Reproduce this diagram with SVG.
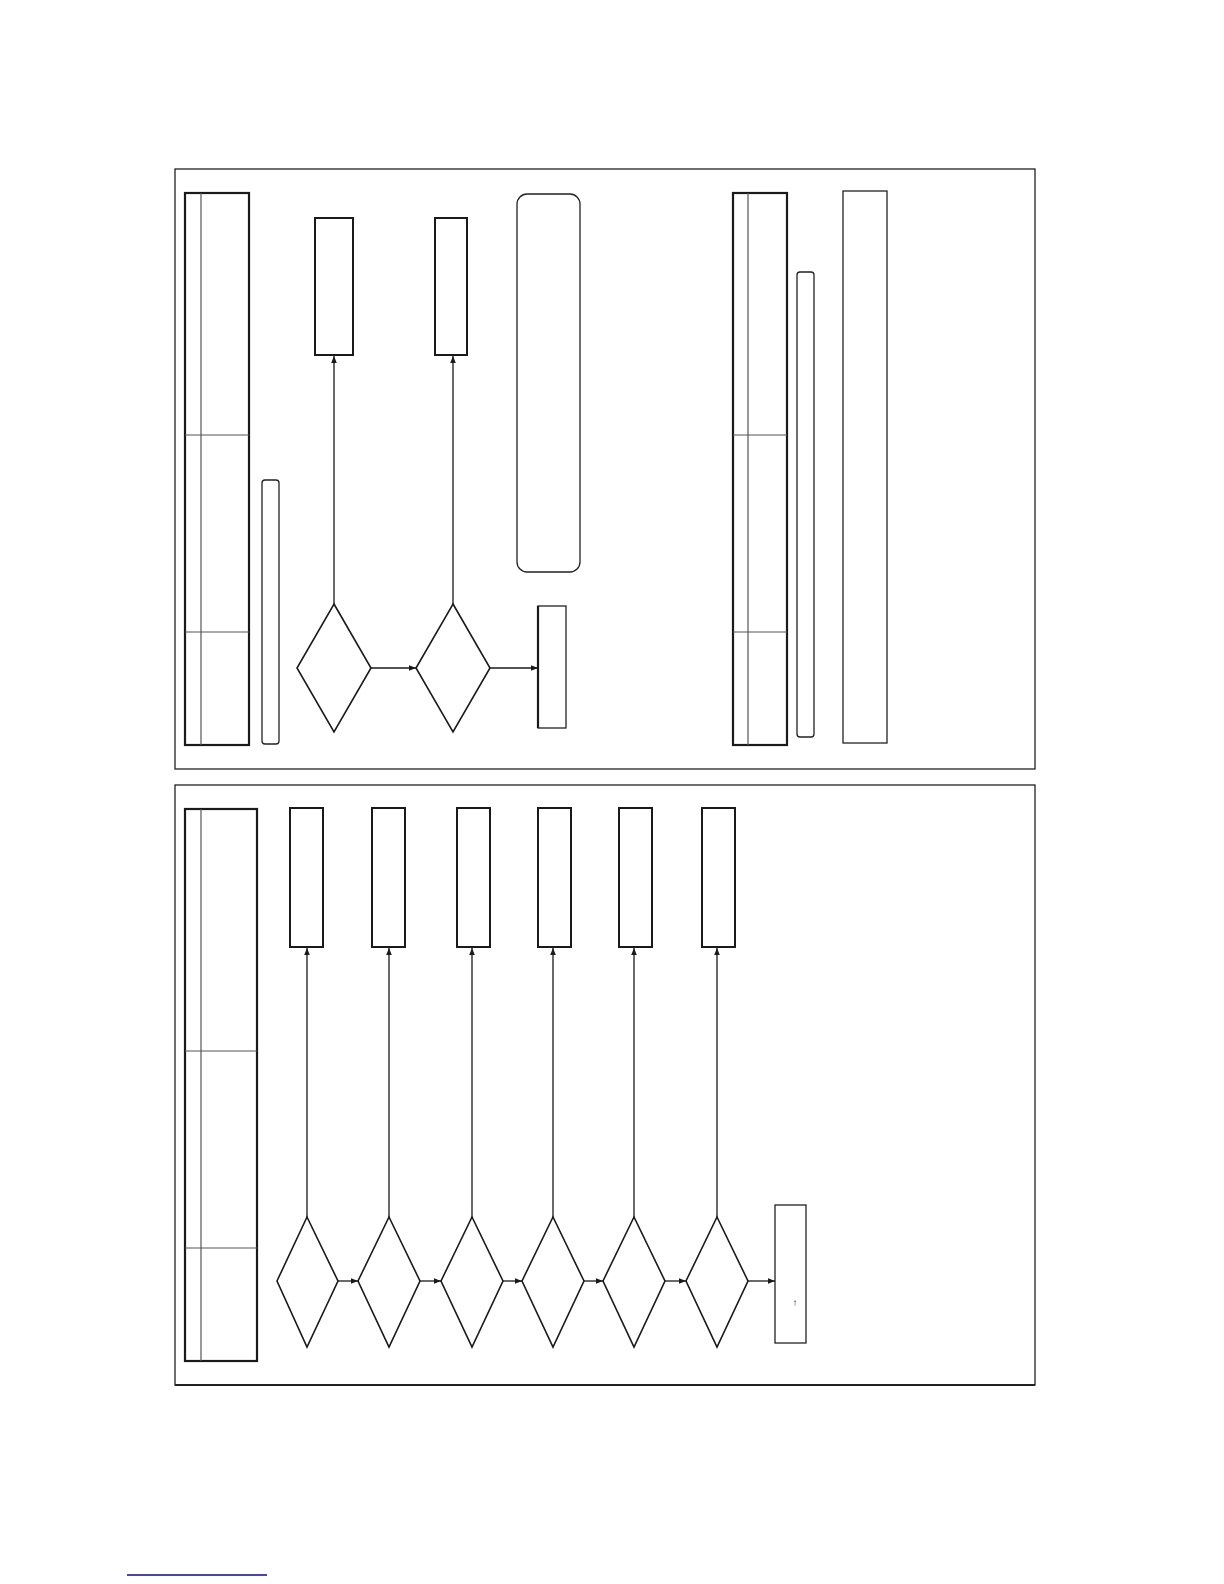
<svg xmlns="http://www.w3.org/2000/svg" width="1224" height="1584" viewBox="0 0 1224 1584">
<style>
.frame{fill:none;stroke:#222;stroke-width:1.3}
.tbl{fill:#fff;stroke:#1a1a1a;stroke-width:2.2}
.grid{stroke:#555;stroke-width:1.2}
.box{fill:#fff;stroke:#1a1a1a;stroke-width:2}
.thin{fill:#fff;stroke:#222;stroke-width:1.3}
.dia{fill:#fff;stroke:#1a1a1a;stroke-width:1.6}
.con{stroke:#1a1a1a;stroke-width:1.3;fill:none}
.txt{font-family:"Liberation Sans",Arial,sans-serif;font-size:10px;fill:#222}
</style>
<defs>
<marker id="ah" viewBox="0 0 10 10" refX="10" refY="5" markerWidth="7" markerHeight="7" orient="auto" markerUnits="userSpaceOnUse">
<path d="M0,1 L10,5 L0,9 Z" fill="#1a1a1a"/>
</marker>
</defs>
<rect width="1224" height="1584" fill="#fff"/>

<g id="panel-top">
<rect class="frame" x="175" y="169" width="860" height="600"/>
</g>
<g id="table-top-left">
<rect class="tbl" x="185" y="193" width="64" height="552"/>
<line class="grid" x1="201" y1="193" x2="201" y2="745"/>
<line class="grid" x1="185" y1="435" x2="249" y2="435"/>
<line class="grid" x1="185" y1="632" x2="249" y2="632"/>
</g>
<g id="bar-top-left"><rect class="thin" x="262" y="480" width="17" height="264" rx="3"/></g>
<g id="box-t1"><rect class="box" x="315" y="218" width="38" height="137"/></g>
<g id="box-t2"><rect class="box" x="435" y="218" width="32" height="137"/></g>
<g id="dia-t1"><polygon class="dia" points="334,604 371,668 334,732 297,668"/></g>
<g id="dia-t2"><polygon class="dia" points="453,604 490,668 453,732 416,668"/></g>
<g id="box-t3"><rect class="thin" x="538" y="606" width="28" height="122"/><line x1="538" y1="606" x2="538" y2="728" stroke="#1a1a1a" stroke-width="2.2"/></g>
<g id="rounded-t"><rect class="thin" x="517" y="194" width="63" height="378" rx="10"/></g>
<g id="table-top-right">
<rect class="tbl" x="733" y="193" width="54" height="552"/>
<line class="grid" x1="748" y1="193" x2="748" y2="745"/>
<line class="grid" x1="733" y1="435" x2="787" y2="435"/>
<line class="grid" x1="733" y1="632" x2="787" y2="632"/>
</g>
<g id="bar-top-right"><rect class="thin" x="797" y="272" width="17" height="465" rx="3"/></g>
<g id="rect-top-right"><rect class="thin" x="843" y="191" width="44" height="552"/></g>

<g id="panel-bottom">
<rect class="frame" x="175" y="785" width="860" height="600"/>
<line x1="175" y1="1385" x2="1035" y2="1385" stroke="#222" stroke-width="2"/>
</g>
<g id="table-bottom">
<rect class="tbl" x="185" y="809" width="72" height="552"/>
<line class="grid" x1="201" y1="809" x2="201" y2="1361"/>
<line class="grid" x1="185" y1="1051" x2="257" y2="1051"/>
<line class="grid" x1="185" y1="1248" x2="257" y2="1248"/>
</g>
<g id="box-b1"><rect class="box" x="290" y="808" width="33" height="139"/></g>
<g id="box-b2"><rect class="box" x="372" y="808" width="33" height="139"/></g>
<g id="box-b3"><rect class="box" x="457" y="808" width="33" height="139"/></g>
<g id="box-b4"><rect class="box" x="538" y="808" width="33" height="139"/></g>
<g id="box-b5"><rect class="box" x="619" y="808" width="33" height="139"/></g>
<g id="box-b6"><rect class="box" x="702" y="808" width="33" height="139"/></g>
<g id="dia-b1"><polygon class="dia" points="307,1217 338,1281 307,1347 277,1281"/></g>
<g id="dia-b2"><polygon class="dia" points="389,1217 420,1281 389,1347 358,1281"/></g>
<g id="dia-b3"><polygon class="dia" points="472,1217 503,1281 472,1347 441,1281"/></g>
<g id="dia-b4"><polygon class="dia" points="553,1217 584,1281 553,1347 522,1281"/></g>
<g id="dia-b5"><polygon class="dia" points="634,1217 665,1281 634,1347 603,1281"/></g>
<g id="dia-b6"><polygon class="dia" points="717,1217 748,1281 717,1347 686,1281"/></g>
<g id="box-b7"><rect class="thin" x="775" y="1205" width="31" height="138"/><text class="txt" x="795" y="1306" text-anchor="middle">↑</text></g>

<g id="connectors">
<line class="con" x1="334" y1="604" x2="334" y2="356" marker-end="url(#ah)"/>
<line class="con" x1="453" y1="604" x2="453" y2="356" marker-end="url(#ah)"/>
<line class="con" x1="371" y1="668" x2="416" y2="668" marker-end="url(#ah)"/>
<line class="con" x1="490" y1="668" x2="538" y2="668" marker-end="url(#ah)"/>
<line class="con" x1="307" y1="1217" x2="307" y2="948" marker-end="url(#ah)"/>
<line class="con" x1="389" y1="1217" x2="389" y2="948" marker-end="url(#ah)"/>
<line class="con" x1="472" y1="1217" x2="472" y2="948" marker-end="url(#ah)"/>
<line class="con" x1="553" y1="1217" x2="553" y2="948" marker-end="url(#ah)"/>
<line class="con" x1="634" y1="1217" x2="634" y2="948" marker-end="url(#ah)"/>
<line class="con" x1="717" y1="1217" x2="717" y2="948" marker-end="url(#ah)"/>
<line class="con" stroke-width="2" x1="338" y1="1281" x2="358" y2="1281" marker-end="url(#ah)"/>
<line class="con" stroke-width="2" x1="420" y1="1281" x2="441" y2="1281" marker-end="url(#ah)"/>
<line class="con" stroke-width="2" x1="503" y1="1281" x2="522" y2="1281" marker-end="url(#ah)"/>
<line class="con" stroke-width="2" x1="584" y1="1281" x2="603" y2="1281" marker-end="url(#ah)"/>
<line class="con" stroke-width="2" x1="665" y1="1281" x2="686" y2="1281" marker-end="url(#ah)"/>
<line class="con" stroke-width="2" x1="748" y1="1281" x2="775" y2="1281" marker-end="url(#ah)"/>
</g>
<g id="link-underline"><line x1="127" y1="1575" x2="267" y2="1575" stroke="#0a0a8c" stroke-width="1.3"/></g>
</svg>
